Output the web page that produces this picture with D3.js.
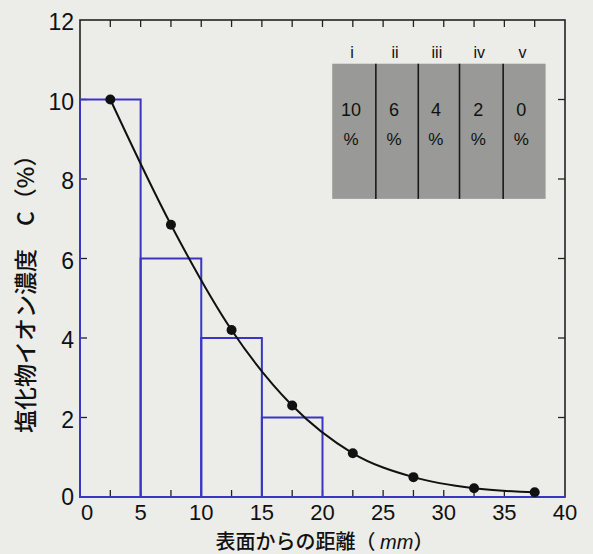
<!DOCTYPE html>
<html>
<head>
<meta charset="utf-8">
<script src="https://cdn.jsdelivr.net/npm/d3@7"></script>
<style>
  body { margin: 0; background: #ecece8; }
  svg { display: block; }
  text { font-family: "Liberation Sans", Arial, sans-serif; fill: #111; }
</style>
</head>
<body>
<svg id="chart" width="593" height="554"></svg>
<script>
var width = 593, height = 554;
var margin = {left: 80, right: 28, top: 20, bottom: 57};

// step bars (zones) and measured profile
var zoneStart = [0, 5, 10, 15];
var zoneEnd = [5, 10, 15, 20];
var zoneValue = [10, 6, 4, 2];

var depth = [2.5, 7.5, 12.5, 17.5, 22.5, 27.5, 32.5, 37.5];
var conc = [10, 6.85, 4.2, 2.3, 1.1, 0.5, 0.22, 0.12];

var xTicks = [0, 5, 10, 15, 20, 25, 30, 35, 40];
var yTicks = [0, 2, 4, 6, 8, 10, 12];

// inset table
var insetLabels = ["i", "ii", "iii", "iv", "v"];
var insetValues = [10, 6, 4, 2, 0];
var insetEdges = [20.8, 24.4, 27.9, 31.3, 34.9, 38.4];

var svg = d3.select("#chart");

var x = d3.scaleLinear().domain([0, 40]).range([margin.left, width - margin.right]);
var y = d3.scaleLinear().domain([0, 12]).range([height - margin.bottom, margin.top]);

var x0 = x(0), x1 = x(40), y0 = y(0), y1 = y(12);
var blue = "#3b35c4";
var tickLen = 7;

// frame
svg.append("rect")
  .attr("x", x0).attr("y", y1)
  .attr("width", x1 - x0).attr("height", y0 - y1)
  .attr("fill", "none")
  .attr("stroke", "#222")
  .attr("stroke-width", 1.6);

// inward ticks, every 2.5 mm on x, every 2 % on y
var minorX = d3.range(0, 40.01, 2.5).slice(1, -1);
svg.append("g").selectAll("line.bx").data(minorX).enter().append("line")
  .attr("x1", function(d) { return x(d); }).attr("x2", function(d) { return x(d); })
  .attr("y1", y0).attr("y2", y0 - tickLen)
  .attr("stroke", "#222").attr("stroke-width", 1.3);
svg.append("g").selectAll("line.tx").data(minorX).enter().append("line")
  .attr("x1", function(d) { return x(d); }).attr("x2", function(d) { return x(d); })
  .attr("y1", y1).attr("y2", y1 + tickLen)
  .attr("stroke", "#222").attr("stroke-width", 1.3);
var innerY = yTicks.slice(1, -1);
svg.append("g").selectAll("line.ly").data(innerY).enter().append("line")
  .attr("x1", x0).attr("x2", x0 + tickLen)
  .attr("y1", function(d) { return y(d); }).attr("y2", function(d) { return y(d); })
  .attr("stroke", "#222").attr("stroke-width", 1.3);
svg.append("g").selectAll("line.ry").data(innerY).enter().append("line")
  .attr("x1", x1).attr("x2", x1 - tickLen)
  .attr("y1", function(d) { return y(d); }).attr("y2", function(d) { return y(d); })
  .attr("stroke", "#222").attr("stroke-width", 1.3);

// tick labels
svg.append("g").selectAll("text").data(xTicks).enter().append("text")
  .attr("x", function(d) { return x(d) + (d === 0 ? 7 : 0); })
  .attr("y", y0 + 23)
  .attr("text-anchor", "middle")
  .attr("font-size", 22)
  .text(function(d) { return d; });
svg.append("g").selectAll("text").data(yTicks).enter().append("text")
  .attr("x", x0 - 6)
  .attr("y", function(d) { return y(d) + (d === 0 ? 8 : 10); })
  .attr("text-anchor", "end")
  .attr("font-size", 23)
  .text(function(d) { return d; });

// inset table
var insetTop = y(10.9), insetBottom = y(7.5);
var inset = svg.append("g");
inset.append("rect")
  .attr("x", x(insetEdges[0])).attr("y", insetTop)
  .attr("width", x(insetEdges[5]) - x(insetEdges[0]))
  .attr("height", insetBottom - insetTop)
  .attr("fill", "#999997");
inset.selectAll("line").data(insetEdges.slice(1, -1)).enter().append("line")
  .attr("x1", function(d) { return x(d); }).attr("x2", function(d) { return x(d); })
  .attr("y1", insetTop).attr("y2", insetBottom)
  .attr("stroke", "#1a1a1a").attr("stroke-width", 1.6);
var mids = insetLabels.map(function(d, i) { return (insetEdges[i] + insetEdges[i + 1]) / 2; });
inset.selectAll("text.lab").data(insetLabels).enter().append("text")
  .attr("x", function(d, i) { return x(mids[i]) - 2; })
  .attr("y", insetTop - 6)
  .attr("text-anchor", "middle")
  .attr("font-size", 16)
  .text(function(d) { return d; });
inset.selectAll("text.val").data(insetValues).enter().append("text")
  .attr("x", function(d, i) { return x(mids[i]) - 3; })
  .attr("y", insetTop + 52)
  .attr("text-anchor", "middle")
  .attr("font-size", 18)
  .text(function(d) { return d; });
inset.selectAll("text.pct").data(insetValues).enter().append("text")
  .attr("x", function(d, i) { return x(mids[i]) - 3; })
  .attr("y", insetTop + 81)
  .attr("text-anchor", "middle")
  .attr("font-size", 17)
  .text("%");

// zone bars
svg.append("g").selectAll("rect").data(zoneValue).enter().append("rect")
  .attr("x", function(d, i) { return x(zoneStart[i]); })
  .attr("y", function(d) { return y(d); })
  .attr("width", function(d, i) { return x(zoneEnd[i]) - x(zoneStart[i]); })
  .attr("height", function(d) { return y0 - y(d); })
  .attr("fill", "none")
  .attr("stroke", blue)
  .attr("stroke-width", 2);

// baseline drawn in blue
svg.append("line")
  .attr("x1", x0).attr("x2", x1).attr("y1", y0).attr("y2", y0)
  .attr("stroke", blue).attr("stroke-width", 2.2);

// profile curve
var pts = depth.map(function(d, i) { return [d, conc[i]]; });
var line = d3.line()
  .x(function(d) { return x(d[0]); })
  .y(function(d) { return y(d[1]); })
  .curve(d3.curveMonotoneX);
svg.append("path")
  .attr("d", line(pts))
  .attr("fill", "none")
  .attr("stroke", "#111")
  .attr("stroke-width", 2);
svg.append("g").selectAll("circle").data(pts).enter().append("circle")
  .attr("cx", function(d) { return x(d[0]); })
  .attr("cy", function(d) { return y(d[1]); })
  .attr("r", 5)
  .attr("fill", "#111");

// axis titles
var xt = svg.append("text")
  .attr("x", (x0 + x1) / 2 + 2)
  .attr("y", height - 5)
  .attr("text-anchor", "middle")
  .attr("font-size", 20)
  .attr("font-weight", 500)
  .style("font-family", "'Noto Sans CJK JP', sans-serif");
xt.append("tspan").text("表面からの距離（ ");
xt.append("tspan").style("font-style", "italic").style("font-family", "'Liberation Sans', Arial, sans-serif").attr("font-weight", "normal").text("mm");
xt.append("tspan").text("）");

svg.append("text")
  .attr("transform", "translate(34," + (y(5.25)) + ") rotate(-90)")
  .attr("text-anchor", "middle")
  .attr("font-size", 23)
  .attr("font-weight", 500)
  .style("font-family", "'Noto Sans CJK JP', sans-serif")
  .text("塩化物イオン濃度　C（%）");
</script>
</body>
</html>
